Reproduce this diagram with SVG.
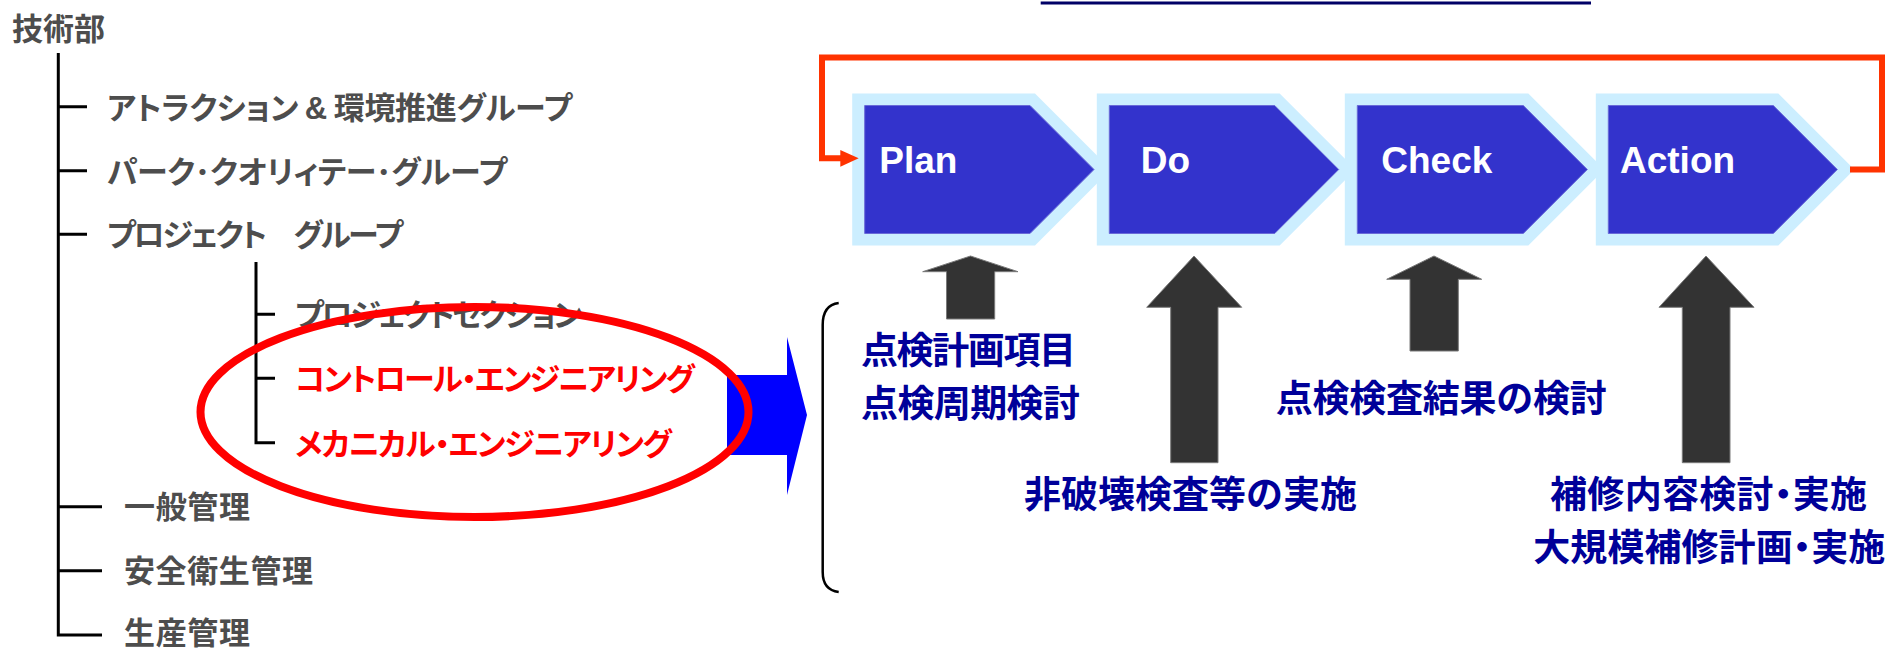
<svg xmlns="http://www.w3.org/2000/svg" width="1887" height="650" viewBox="0 0 1887 650">
<style>
.t{font-family:"Noto Sans CJK JP","Noto Sans CJK SC",sans-serif;font-weight:bold;font-size:31px;fill:#4d4d4d}
.k{font-feature-settings:"palt" 1}
.r{fill:#ff0000}
.b{font-size:37px;fill:#000099}
.w{font-family:"Liberation Sans",Arial,sans-serif;font-weight:bold;font-size:37px;fill:#ffffff}
.lat{font-family:"Liberation Sans",Arial,sans-serif}
.tree{stroke:#000;stroke-width:3;fill:none}
.outer{fill:#cceeff}
.inner{fill:#3333cc;stroke:#6a6ad8;stroke-width:1}
.up{fill:#333333;stroke:#7a7a7a;stroke-width:1}
</style>
<g id="connectors">
  <path class="tree" d="M58.3,53 V635 H102 M58.3,106.7 H87 M58.3,170.7 H87 M58.3,234.3 H87 M58.3,506.7 H102 M58.3,570.7 H102"/>
  <path class="tree" d="M256,262 V442.7 H275 M256,314.3 H275 M256,378.3 H275"/>
  <path d="M838.7,303 Q822.7,305 822.7,325 V572 Q822.7,590 838.7,592" fill="none" stroke="#000" stroke-width="2.5"/>
  <polygon points="727,375 787,375 787,337 807,415 787,495 787,455 727,455" fill="#0000ff"/>
  <polygon class="up" points="946.5,319 946.5,271.7 922.7,271.7 970.5,256 1018,271.7 994.7,271.7 994.7,319"/>
  <polygon class="up" points="1170.7,462.7 1170.7,307.3 1146.7,307.3 1194,256 1241.7,307.3 1218,307.3 1218,462.7"/>
  <polygon class="up" points="1410,351 1410,279.3 1386.7,279.3 1434,256 1481.7,279.3 1458.3,279.3 1458.3,351"/>
  <polygon class="up" points="1682.3,462.7 1682.3,307.3 1659,307.3 1706,256 1754,307.3 1730,307.3 1730,462.7"/>
  <line x1="1040.7" y1="3" x2="1591" y2="3" stroke="#000066" stroke-width="3"/>
</g>
<g id="dept"><text class="t" x="12" y="40" textLength="93">技術部</text></g>
<g id="n1"><text class="t k" x="107" y="118.5" textLength="465">アトラクション <tspan class="lat">&amp;</tspan> 環境推進グループ</text></g>
<g id="n2"><text class="t k" x="107" y="182.5" textLength="400">パーク･クオリィテー･グループ</text></g>
<g id="n3"><text class="t k" x="107" y="246" textLength="296">プロジェクト　グループ</text></g>
<g id="n4"><text class="t k" x="295" y="326" textLength="287">プロジェクトセクション</text></g>
<g id="n5"><text class="t k r" x="295" y="390" textLength="400">コントロール・エンジニアリング</text></g>
<g id="n6"><text class="t k r" x="295" y="454.5" textLength="377">メカニカル・エンジニアリング</text></g>
<g id="n7"><text class="t" x="124" y="518" textLength="126">一般管理</text></g>
<g id="n8"><text class="t" x="124" y="582" textLength="189">安全衛生管理</text></g>
<g id="n9"><text class="t" x="124" y="644" font-size="30" textLength="126">生産管理</text></g>
<g id="highlight"><ellipse cx="474.5" cy="412" rx="274" ry="105" fill="none" stroke="#ff0000" stroke-width="8"/></g>
<g id="plan">
  <polygon class="outer" points="852.2,93.5 1035,93.5 1111,169.5 1035,245.5 852.2,245.5"/>
</g>
<g id="do">
  <polygon class="outer" points="1096.8,93.5 1279.7,93.5 1355.7,169.5 1279.7,245.5 1096.8,245.5"/>
</g>
<g id="check">
  <polygon class="outer" points="1344.8,93.5 1528.3,93.5 1604.3,169.5 1528.3,245.5 1344.8,245.5"/>
</g>
<g id="action">
  <polygon class="outer" points="1595.8,93.5 1778.3,93.5 1854.3,169.5 1778.3,245.5 1595.8,245.5"/>
</g>
<g id="plan-inner">
  <polygon class="inner" points="864.7,105.5 1030,105.5 1094,169.5 1030,233.5 864.7,233.5"/>
  <text class="w" x="879.3" y="173.3">Plan</text>
</g>
<g id="do-inner">
  <polygon class="inner" points="1109.3,105.5 1274.7,105.5 1338.7,169.5 1274.7,233.5 1109.3,233.5"/>
  <text class="w" x="1140.7" y="173.3">Do</text>
</g>
<g id="check-inner">
  <polygon class="inner" points="1357.3,105.5 1523.3,105.5 1587.3,169.5 1523.3,233.5 1357.3,233.5"/>
  <text class="w" x="1381.3" y="173.3">Check</text>
</g>
<g id="action-inner">
  <polygon class="inner" points="1608.3,105.5 1773.3,105.5 1837.3,169.5 1773.3,233.5 1608.3,233.5"/>
  <text class="w" x="1620" y="173.3">Action</text>
</g>
<g id="loop">
  <path d="M1850,169.5 H1882 V57.5 H822 V158.3 H842" fill="none" stroke="#ff3300" stroke-width="6"/>
  <polygon points="840.3,150 858.7,158.3 840.3,166.7" fill="#ff3300"/>
</g>
<g id="plan-notes">
  <text class="t b" x="861" y="364" textLength="215">点検計画項目</text>
  <text class="t b" x="861" y="417.3" textLength="219">点検周期検討</text>
</g>
<g id="do-note"><text class="t b" x="1024" y="508" textLength="333">非破壊検査等の実施</text></g>
<g id="check-note"><text class="t b" x="1275.7" y="412.2" textLength="331">点検検査結果の検討</text></g>
<g id="action-notes">
  <text class="t b k" x="1550" y="508" textLength="317">補修内容検討・実施</text>
  <text class="t b k" x="1533.3" y="561.4" textLength="352">大規模補修計画・実施</text>
</g>
</svg>
